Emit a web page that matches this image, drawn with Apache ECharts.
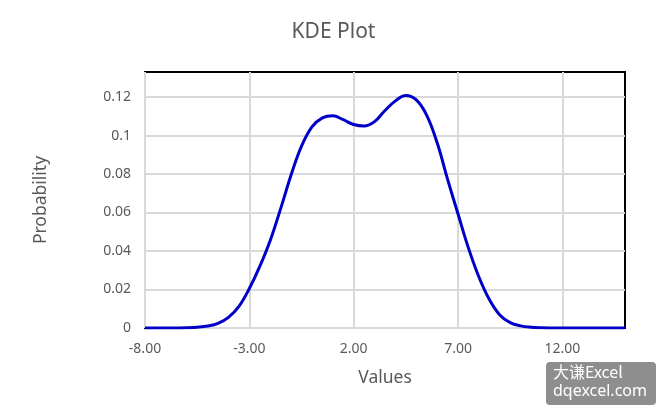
<!DOCTYPE html>
<html>
<head>
<meta charset="utf-8">
<script src="https://cdn.jsdelivr.net/npm/echarts@6/dist/echarts.min.js"></script>
<style>html,body{margin:0;padding:0;background:#fff;}#c{width:667px;height:417px;}</style>
</head>
<body>
<div id="c"></div>
<script>
const xValues = [-8,-7.5,-7,-6.5,-6,-5.5,-5,-4.5,-4,-3.5,-3,-2.5,-2,-1.5,-1,-0.5,0,0.5,1,1.5,2,2.5,3,3.5,4,4.5,5,5.5,6,6.5,7,7.5,8,8.5,9,9.5,10,10.5,11,11.5,12,12.5,13,13.5,14,14.5,15];
const densities = [0,0,0.00001,0.00004,0.00013,0.0004,0.001,0.0024,0.0055,0.0112,0.0205,0.032,0.0455,0.062,0.0795,0.0945,0.1045,0.1092,0.1103,0.1082,0.1057,0.1049,0.1072,0.113,0.118,0.1208,0.1185,0.1105,0.0962,0.0772,0.0592,0.0415,0.0265,0.0148,0.0068,0.0028,0.0011,0.0004,0.00013,0.00004,0.00001,0,0,0,0,0,0];
const xTickLabels = [-8,-3,2,7,12];
const yTickValues = [0,0.02,0.04,0.06,0.08,0.1,0.12];

const FONT = '"Noto Sans", "Open Sans", sans-serif';
const GREY = '#595959';
const chart = echarts.init(document.getElementById('c'), null, {renderer:'canvas'});
chart.setOption({
  animation:false,
  backgroundColor:'#fff',
  title:{text:'KDE Plot', left:'center', top:17, textStyle:{fontFamily:FONT, fontSize:21, fontWeight:'normal', color:GREY}},
  grid:{left:145, right:42, top:72, bottom:89, show:true, borderColor:'#000', borderWidth:2, backgroundColor:'transparent'},
  xAxis:{
    type:'value', min:-8, max:15,
    name:'Values', nameLocation:'middle', nameGap:41,
    nameTextStyle:{fontFamily:FONT, fontSize:17.5, color:GREY},
    axisLine:{show:false},
    axisTick:{show:false, customValues:xTickLabels},
    axisLabel:{customValues:xTickLabels, formatter:v=>v.toFixed(2), fontFamily:FONT, fontSize:14, color:GREY, margin:14},
    splitLine:{show:true, lineStyle:{color:'#d9d9d9', width:2}}
  },
  yAxis:{
    type:'value', min:0, max:0.133,
    name:'Probability', nameLocation:'middle', nameGap:95,
    nameTextStyle:{fontFamily:FONT, fontSize:17.5, color:GREY},
    axisLine:{show:false},
    axisTick:{show:false, customValues:yTickValues},
    axisLabel:{customValues:yTickValues, formatter:v=>String(Number(v.toFixed(2))), fontFamily:FONT, fontSize:14, color:GREY, margin:14},
    splitLine:{show:true, lineStyle:{color:'#d9d9d9', width:2}}
  },
  series:[{
    type:'line', smooth:0.4, symbol:'none',
    data:xValues.map((x,i)=>[x,densities[i]]),
    lineStyle:{color:'#0000c8', width:3},
    z:5
  }],
  graphic:[{
    type:'group', left:546, top:362,
    children:[
      {type:'rect', shape:{x:0,y:0,width:110,height:43,r:4}, style:{fill:'#8e8e8e'}},
      {type:'text', x:7, y:2, style:{text:'大谦Excel', fill:'#fff', font:'16px "Noto Sans CJK SC", "Noto Sans", sans-serif'}},
      {type:'text', x:7, y:21, style:{text:'dqexcel.com', fill:'#fff', font:'16px "Noto Sans", sans-serif'}}
    ]
  }]
});
</script>
</body>
</html>
